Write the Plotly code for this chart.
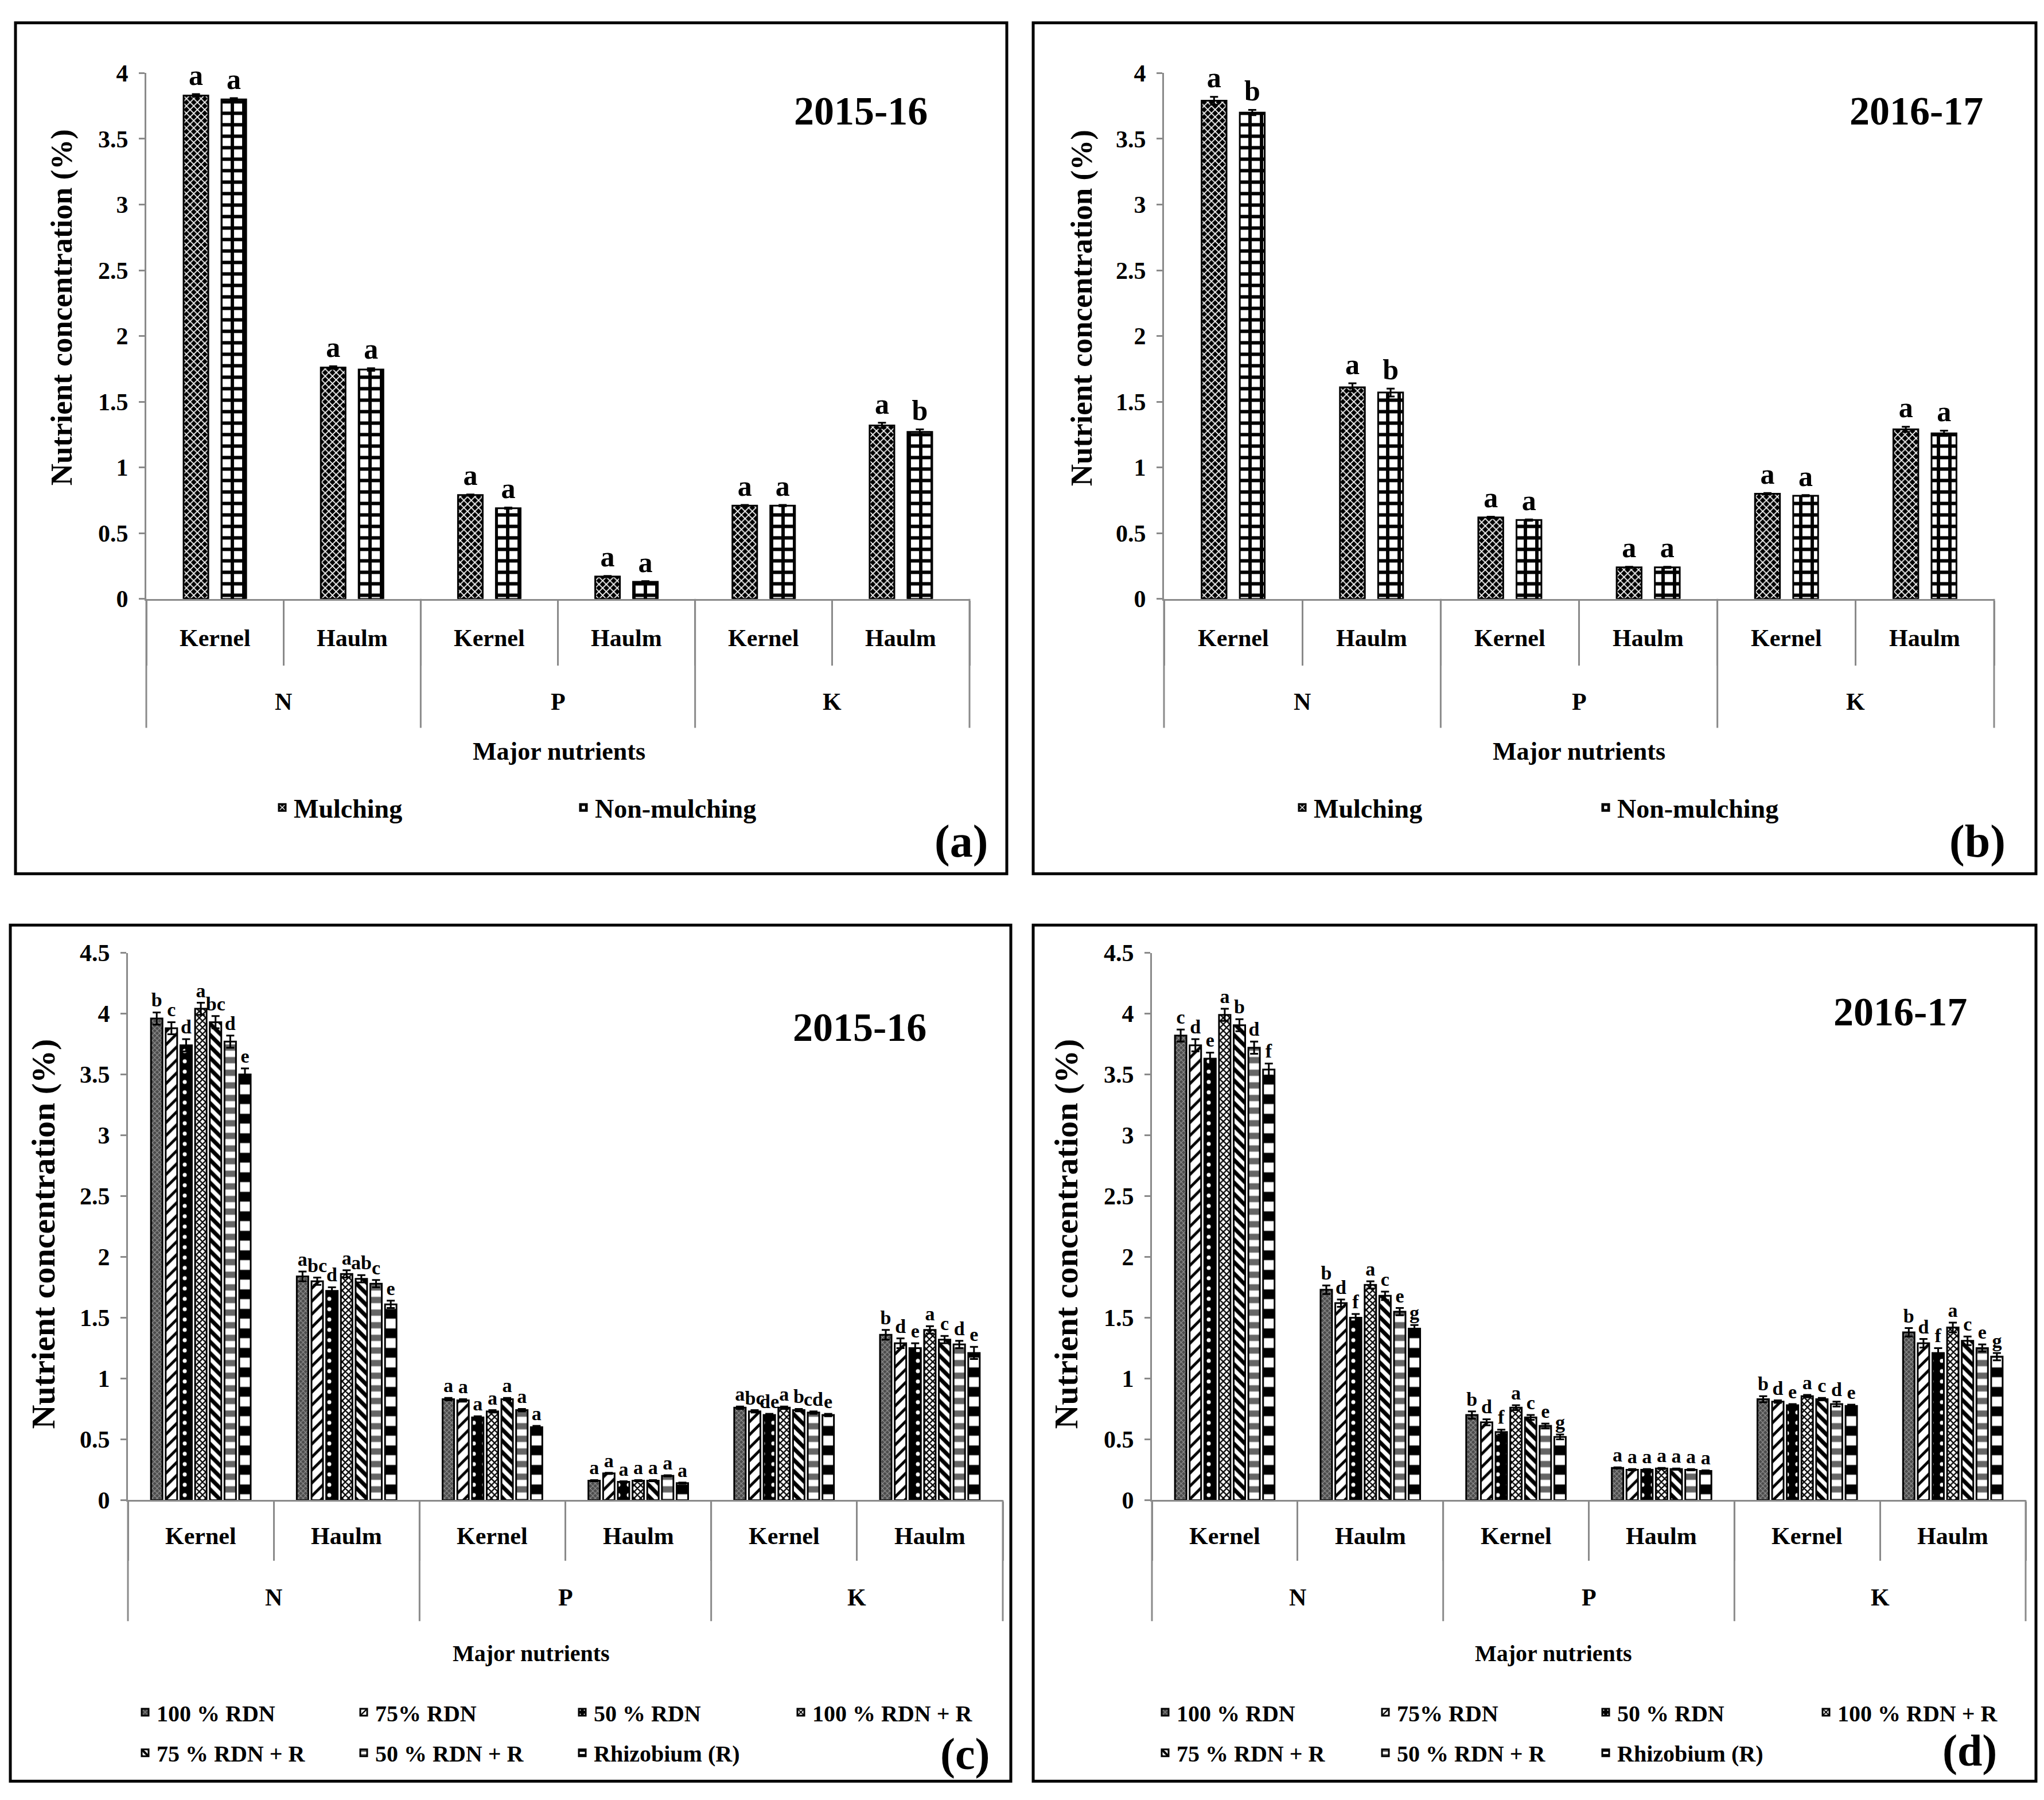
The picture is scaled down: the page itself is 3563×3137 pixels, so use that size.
import plotly.graph_objects as go

W, H = 3563, 3137

# ---------------- data ----------------
nutrients = ["N", "N", "P", "P", "K", "K"]
parts = ["Kernel", "Haulm", "Kernel", "Haulm", "Kernel", "Haulm"]
nutrient_groups = ["N", "P", "K"]
mulch_series = ["Mulching", "Non-mulching"]
treatments = ["100 % RDN", "75% RDN", "50 % RDN", "100 % RDN + R",
              "75 % RDN + R", "50 % RDN + R", "Rhizobium (R)"]

# (a) 2015-16, mulching
a_mulching = [3.83, 1.76, 0.79, 0.17, 0.71, 1.32]
a_mulching_err = [0.01, 0.01, 0.005, 0.005, 0.005, 0.02]
a_mulching_letters = ["a", "a", "a", "a", "a", "a"]
a_nonmulching = [3.80, 1.745, 0.69, 0.13, 0.71, 1.27]
a_nonmulching_err = [0.01, 0.01, 0.005, 0.005, 0.005, 0.02]
a_nonmulching_letters = ["a", "a", "a", "a", "a", "b"]

# (b) 2016-17, mulching
b_mulching = [3.79, 1.61, 0.62, 0.24, 0.80, 1.29]
b_mulching_err = [0.03, 0.03, 0.005, 0.005, 0.005, 0.02]
b_mulching_letters = ["a", "a", "a", "a", "a", "a"]
b_nonmulching = [3.70, 1.57, 0.60, 0.24, 0.785, 1.26]
b_nonmulching_err = [0.02, 0.03, 0.005, 0.005, 0.005, 0.02]
b_nonmulching_letters = ["b", "b", "a", "a", "a", "a"]

# (c) 2015-16, nitrogen treatments (rows follow `treatments`)
c_values = [
    [3.96, 1.84, 0.83, 0.16, 0.76, 1.36],
    [3.88, 1.80, 0.82, 0.22, 0.73, 1.29],
    [3.74, 1.72, 0.68, 0.15, 0.70, 1.25],
    [4.04, 1.86, 0.73, 0.16, 0.76, 1.40],
    [3.93, 1.82, 0.83, 0.16, 0.74, 1.32],
    [3.77, 1.78, 0.74, 0.20, 0.72, 1.28],
    [3.50, 1.61, 0.60, 0.14, 0.70, 1.21],
]
c_errors = [
    [0.05, 0.04, 0.01, 0.005, 0.01, 0.04],
    [0.05, 0.03, 0.01, 0.005, 0.01, 0.04],
    [0.05, 0.03, 0.01, 0.005, 0.01, 0.04],
    [0.05, 0.03, 0.01, 0.005, 0.01, 0.03],
    [0.05, 0.03, 0.01, 0.005, 0.01, 0.03],
    [0.05, 0.03, 0.01, 0.005, 0.01, 0.03],
    [0.05, 0.03, 0.01, 0.005, 0.01, 0.05],
]
c_letters = [
    ["b", "a", "a", "a", "a", "b"],
    ["c", "bc", "a", "a", "bc", "d"],
    ["d", "d", "a", "a", "de", "e"],
    ["a", "a", "a", "a", "a", "a"],
    ["bc", "ab", "a", "a", "b", "c"],
    ["d", "c", "a", "a", "cd", "d"],
    ["e", "e", "a", "a", "e", "e"],
]

# (d) 2016-17, nitrogen treatments
d_values = [
    [3.82, 1.73, 0.70, 0.265, 0.83, 1.38],
    [3.74, 1.62, 0.64, 0.25, 0.81, 1.29],
    [3.63, 1.50, 0.56, 0.25, 0.78, 1.21],
    [3.99, 1.77, 0.76, 0.26, 0.855, 1.42],
    [3.905, 1.68, 0.68, 0.255, 0.83, 1.31],
    [3.72, 1.55, 0.61, 0.25, 0.79, 1.25],
    [3.54, 1.41, 0.52, 0.24, 0.775, 1.18],
]
d_errors = [
    [0.05, 0.035, 0.03, 0.005, 0.025, 0.035],
    [0.05, 0.03, 0.025, 0.005, 0.01, 0.035],
    [0.05, 0.03, 0.02, 0.005, 0.01, 0.04],
    [0.05, 0.03, 0.02, 0.005, 0.01, 0.04],
    [0.05, 0.035, 0.02, 0.005, 0.01, 0.035],
    [0.05, 0.03, 0.02, 0.005, 0.02, 0.03],
    [0.05, 0.03, 0.02, 0.005, 0.01, 0.03],
]
d_letters = [
    ["c", "b", "b", "a", "b", "b"],
    ["d", "d", "d", "a", "d", "d"],
    ["e", "f", "f", "a", "e", "f"],
    ["a", "a", "a", "a", "a", "a"],
    ["b", "c", "c", "a", "c", "c"],
    ["d", "e", "e", "a", "d", "e"],
    ["f", "g", "g", "a", "e", "g"],
]

# ---------------- styling ----------------
SERIF = "Liberation Serif"
GRAY = "#8a8a8a"


def fnt(size, color="black"):
    return dict(family=SERIF, size=size, color=color, weight="bold")


def px_x(x):
    return x / W


def px_y(y):
    return 1 - y / H


mulch_patterns = [
    dict(shape="x", bgcolor="black", fgcolor="white", size=9, solidity=0.35, fillmode="replace"),
    dict(shape="+", bgcolor="white", fgcolor="black", size=20, solidity=0.5, fillmode="replace"),
]
treat_patterns = [
    dict(shape="x", bgcolor="#4c4c4c", fgcolor="#9a9a9a", size=6, solidity=0.3, fillmode="replace"),
    dict(shape="/", bgcolor="white", fgcolor="black", size=16, solidity=0.3, fillmode="replace"),
    dict(shape=".", bgcolor="black", fgcolor="white", size=18, solidity=0.12, fillmode="replace"),
    dict(shape="x", bgcolor="white", fgcolor="black", size=8, solidity=0.5, fillmode="replace"),
    dict(shape="\\", bgcolor="white", fgcolor="black", size=14, solidity=0.5, fillmode="replace"),
    dict(shape="-", bgcolor="white", fgcolor="#666666", size=22, solidity=0.5, fillmode="replace"),
    dict(shape="-", bgcolor="white", fgcolor="black", size=34, solidity=0.5, fillmode="replace"),
]

xcats = [nutrients, parts]

fig = go.Figure()


def add_panel(ax, series, values, errors, letters, patterns, legends, letter_size,
              letter_gap, bar_width=None, offsets=None):
    xa = "x" if ax == 1 else f"x{ax}"
    ya = "y" if ax == 1 else f"y{ax}"
    for i, name in enumerate(series):
        extra = {}
        if bar_width is not None:
            extra = dict(width=bar_width, offset=offsets[i])
        leg = legends[0] if len(legends) == 1 else (legends[0] if i < 4 else legends[1])
        fig.add_trace(go.Bar(
            x=xcats, y=values[i], name=name, xaxis=xa, yaxis=ya,
            offsetgroup=f"g{i}", legend=leg,
            marker=dict(color="white", line=dict(color="black", width=3),
                        pattern=patterns[i]),
            error_y=dict(type="data", array=errors[i], visible=True,
                         color="black", thickness=3, width=7),
            hoverinfo="skip", **extra,
        ))
        tops = [v + e + letter_gap for v, e in zip(values[i], errors[i])]
        fig.add_trace(go.Bar(
            x=xcats, y=tops, xaxis=xa, yaxis=ya, offsetgroup=f"g{i}",
            showlegend=False, text=letters[i], textposition="outside",
            textangle=0, constraintext="none", cliponaxis=False,
            textfont=fnt(letter_size),
            marker=dict(color="rgba(0,0,0,0)", line=dict(width=0)),
            hoverinfo="skip", **extra,
        ))


# panels (a) and (b): two series with explicit width/offset
bw = 0.18
offs = [-0.138 - bw / 2, 0.138 - bw / 2]
add_panel(1, mulch_series, [a_mulching, a_nonmulching], [a_mulching_err, a_nonmulching_err],
          [a_mulching_letters, a_nonmulching_letters], mulch_patterns, ["legend"], 50, 0.01, bw, offs)
add_panel(2, mulch_series, [b_mulching, b_nonmulching], [b_mulching_err, b_nonmulching_err],
          [b_mulching_letters, b_nonmulching_letters], mulch_patterns, ["legend2"], 50, 0.01, bw, offs)
add_panel(3, treatments, c_values, c_errors, c_letters, treat_patterns, ["legend3", "legend4"], 34, 0.0)
add_panel(4, treatments, d_values, d_errors, d_letters, treat_patterns, ["legend5", "legend6"], 34, 0.0)

# axes geometry (pixel positions of plot areas) and category-label layout
panels = {
    1: dict(x0=255, x1=1690, y0=1037, y1=107, ymax=4, ticklen=113, inner=69, outer=182, div=228),
    2: dict(x0=2029, x1=3476, y0=1037, y1=107, ymax=4, ticklen=113, inner=69, outer=182, div=228),
    3: dict(x0=223, x1=1748, y0=2631, y1=1663, ymax=4.5, ticklen=103, inner=64, outer=172, div=214),
    4: dict(x0=2008, x1=3531, y0=2631, y1=1663, ymax=4.5, ticklen=103, inner=64, outer=172, div=214),
}
layout_axes = {}
annotations = []
shapes = []
for k, p in panels.items():
    xn = "xaxis" if k == 1 else f"xaxis{k}"
    yn = "yaxis" if k == 1 else f"yaxis{k}"
    yanc = "y" if k == 1 else f"y{k}"
    xanc = "x" if k == 1 else f"x{k}"
    layout_axes[xn] = dict(
        type="multicategory", domain=[px_x(p["x0"]), px_x(p["x1"])], anchor=yanc,
        showline=True, linecolor=GRAY, linewidth=3, ticks="outside", tickson="boundaries",
        ticklen=p["ticklen"], tickcolor=GRAY, tickwidth=3,
        showticklabels=False, showdividers=False, showgrid=False, zeroline=False,
    )
    layout_axes[yn] = dict(
        domain=[px_y(p["y0"]), px_y(p["y1"])], anchor=xanc, range=[0, p["ymax"]],
        tick0=0, dtick=0.5, showline=True, linecolor=GRAY, linewidth=3,
        ticks="outside", ticklen=10, tickcolor=GRAY, tickwidth=3,
        tickfont=fnt(42), ticklabelstandoff=10, showgrid=False, zeroline=False,
    )
    dref = f"{xanc} domain"
    n = len(parts)
    # inner category labels (Kernel / Haulm)
    for i, lab in enumerate(parts):
        annotations.append(dict(text=lab, xref=dref, x=(i + 0.5) / n, yref="paper",
                                y=px_y(p["y0"] + p["inner"]), showarrow=False,
                                font=fnt(42), xanchor="center", yanchor="middle"))
    # outer group labels (N / P / K) and the long group dividers
    ng = len(nutrient_groups)
    for g, lab in enumerate(nutrient_groups):
        annotations.append(dict(text=lab, xref=dref, x=(g + 0.5) / ng, yref="paper",
                                y=px_y(p["y0"] + p["outer"]), showarrow=False,
                                font=fnt(42), xanchor="center", yanchor="middle"))
    for g in range(ng + 1):
        shapes.append(dict(type="line", xref=dref, x0=g / ng, x1=g / ng, yref="paper",
                           y0=px_y(p["y0"]), y1=px_y(p["y0"] + p["div"]),
                           line=dict(color=GRAY, width=3)))

legend_common = dict(orientation="h", xanchor="left", yanchor="middle",
                     bgcolor="rgba(0,0,0,0)", entrywidthmode="pixels",
                     traceorder="normal", tracegroupgap=0)
legends = dict(
    legend=dict(x=px_x(472), y=px_y(1406), entrywidth=480, font=fnt(46), **legend_common),
    legend2=dict(x=px_x(2250), y=px_y(1406), entrywidth=484, font=fnt(46), **legend_common),
    legend3=dict(x=px_x(233), y=px_y(3006), entrywidth=336, font=fnt(40), **legend_common),
    legend4=dict(x=px_x(233), y=px_y(3078), entrywidth=336, font=fnt(40), **legend_common),
    legend5=dict(x=px_x(2011), y=px_y(3006), entrywidth=339, font=fnt(40), **legend_common),
    legend6=dict(x=px_x(2011), y=px_y(3078), entrywidth=339, font=fnt(40), **legend_common),
)


def ann(text, x, y, size, angle=0):
    annotations.append(dict(text=text, x=px_x(x), y=px_y(y), xref="paper", yref="paper",
                            showarrow=False, font=fnt(size), textangle=angle,
                            xanchor="center", yanchor="middle"))


ann("2015-16", 1500, 174, 70)
ann("2016-17", 3340, 174, 70)
ann("2015-16", 1498, 1795, 70)
ann("2016-17", 3312, 1767, 70)
ann("(a)", 1675, 1466, 80)
ann("(b)", 3447, 1466, 80)
ann("(c)", 1682, 3080, 78)
ann("(d)", 3433, 3074, 78)
ann("Nutrient concentration (%)", 107, 522, 53, -90)
ann("Nutrient concentration (%)", 1885, 522, 53, -90)
ann("Nutrient concentration (%)", 75, 2160, 58, -90)
ann("Nutrient concentration (%)", 1858, 2160, 58, -90)
ann("Major nutrients", 975, 1307, 44)
ann("Major nutrients", 2752, 1307, 44)
ann("Major nutrients", 926, 2902, 40)
ann("Major nutrients", 2708, 2902, 40)

boxes = [(27, 18, 1755, 1523), (1801, 18, 3549, 1523),
         (18, 1614, 1762, 3128), (1801, 1614, 3549, 3128)]
shapes += [dict(type="rect", xref="paper", yref="paper",
                x0=px_x(b[0]), x1=px_x(b[2]), y0=px_y(b[3]), y1=px_y(b[1]),
                line=dict(color="black", width=5), fillcolor="rgba(0,0,0,0)")
           for b in boxes]

fig.update_layout(
    width=W, height=H, margin=dict(l=0, r=0, t=0, b=0),
    paper_bgcolor="white", plot_bgcolor="white",
    barmode="group", bargap=0.294, bargroupgap=0.22,
    annotations=annotations, shapes=shapes, font=fnt(40),
    **layout_axes, **legends,
)

fig.write_html("out.html", config={"displayModeBar": False},
               post_script="document.body.style.margin='0';document.body.style.overflow='hidden';")
